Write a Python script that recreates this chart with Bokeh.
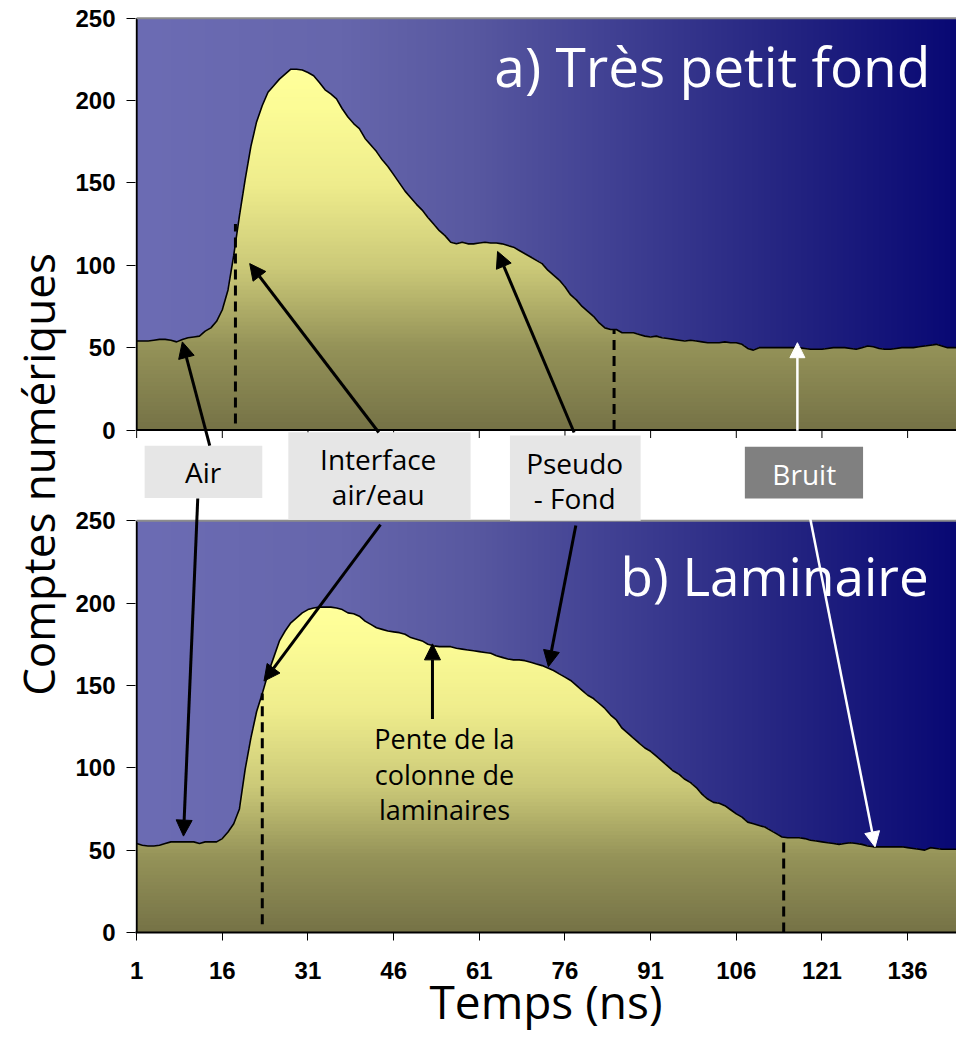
import numpy as np
from bokeh.plotting import figure
from bokeh.models import Range1d, FixedTicker, Arrow, NormalHead
from bokeh.core.properties import value
from bokeh.embed import file_html
from bokeh.resources import INLINE

# ---------------- data ----------------
time_ns = list(range(1, 146))

counts_a = [54, 54, 54, 54.5, 55, 55, 54.5, 53.5, 55, 56,
            56.5, 57, 60, 62, 66, 73, 85, 106, 130, 152,
            172, 187, 197, 205, 209, 213, 216, 219, 219, 218.5,
            217, 215, 211, 206.5, 204, 201, 195, 190, 186, 183,
            177, 173, 169, 164, 160, 155, 150, 145, 141, 137,
            133.5, 129, 125, 121, 118, 114, 113, 114, 113, 113,
            113.5, 114, 113.5, 113.5, 113, 112, 111, 109, 107, 105,
            103, 101, 97, 94, 91, 87, 82, 79, 75, 72,
            69, 65, 62, 61, 61, 59, 59, 59, 58, 57,
            56.5, 57, 56, 55.5, 55, 54.5, 54, 54.5, 54, 53.5,
            53, 53, 53, 53.5, 53, 53, 52, 49.5, 48.5, 50,
            50, 50, 50, 50, 50, 50, 50, 49.5, 49, 49,
            49, 49.5, 50, 50, 50, 49.5, 49, 50, 51, 50.5,
            49.5, 49, 49, 49.5, 50, 50, 50, 50.5, 51, 51.5,
            52, 51, 50, 50, 50]

counts_b = [54, 53, 52.5, 52.5, 53, 54, 55, 55, 55, 55,
            55, 54, 55, 55, 55, 57, 61, 66, 75, 99,
            118, 134, 145, 157, 167, 177, 183, 188, 191, 194,
            196, 197, 197.5, 197.5, 197.5, 197, 196, 194, 193.5, 192,
            189, 187, 185, 184, 183, 182.5, 182, 181, 179, 178,
            177, 175, 174, 173.5, 173.5, 173.5, 172.5, 172, 171.5, 171,
            170.5, 170, 169.5, 168, 167, 166, 165.5, 165.5, 165, 164,
            163, 162, 160.5, 159, 157, 155, 153, 150, 147, 144,
            142, 139, 136, 132, 129, 124, 121, 118, 115, 112,
            110, 107, 104, 101, 98, 96, 93, 91, 88, 84,
            81, 79, 78.5, 77, 74.5, 72, 70, 67, 66, 65,
            64, 62, 60, 58, 57.5, 57.5, 57.5, 57, 56, 55.5,
            55, 54.5, 54, 53.5, 54, 54.5, 54, 53.5, 52.5, 52,
            52, 52, 52, 52, 52, 51.5, 51, 50.5, 50, 51.5,
            51, 50.5, 50.5, 50.5, 50.5]

x_ticks = [1, 16, 31, 46, 61, 76, 91, 106, 121, 136]
y_ticks = [0, 50, 100, 150, 200, 250]

title_a = "a) Très petit fond"
title_b = "b) Laminaire"
x_title = "Temps (ns)"
y_title = "Comptes numériques"

# phase boundaries (ns) marked by dashed lines
bounds_a = [18.3, 84.6]
bounds_b = [23.0, 114.3]

# ---------------- layout ----------------
OFFSET = 305          # panel a is drawn 305 units above panel b
X0, X1 = 0.8, 144.56
Y0, Y1 = 0, 556
FW, FH = 821, 916
YSCALE = FH / (Y1 - Y0)   # px per count

FONT = "Open Sans"


def ty(y, size):
    """baseline position corrected for the svg text baseline offset"""
    return y + 0.35 * size / YSCALE


p = figure(frame_width=FW, frame_height=FH, x_range=Range1d(X0, X1), y_range=Range1d(Y0, Y1),
           output_backend="svg", toolbar_location=None,
           min_border_left=135, min_border_right=0,
           min_border_top=16, min_border_bottom=90)
p.outline_line_color = None
p.grid.visible = False
p.background_fill_color = "white"
p.border_fill_color = "white"


def hexcol(c):
    return "#%02x%02x%02x" % tuple(int(round(v)) for v in c)


# horizontal background gradient of each panel
ncol = 821
fx = np.linspace(0, 1, ncol)
bg_f = [0, 0.25, 0.41, 0.57, 0.81, 1.0]
bg_c = np.array([(108, 108, 180), (102, 102, 172), (88, 88, 160),
                 (66, 66, 148), (34, 34, 128), (8, 8, 116)], dtype=float)
img = np.empty((2, ncol), dtype=np.uint32)
view = img.view(dtype=np.uint8).reshape((2, ncol, 4))
for ch in range(3):
    view[:, :, ch] = np.interp(fx, bg_f, bg_c[:, ch]).astype(np.uint8)
view[:, :, 3] = 255
for base in (0, OFFSET):
    p.image_rgba(image=[img], x=1, y=base, dw=X1 - 1, dh=250)

# vertical yellow -> olive gradient of the areas
ar_f = [0, 0.23, 0.45, 0.68, 0.9, 1.0]
ar_c = np.array([(117, 114, 70), (148, 146, 88), (203, 201, 120),
                 (238, 236, 140), (252, 252, 150), (255, 255, 155)], dtype=float)


def area_color(f):
    return hexcol([np.interp(f, ar_f, ar_c[:, ch]) for ch in range(3)])


def draw_area(series, base):
    s = np.array(series, dtype=float)
    vmax = s.max()
    n = 90
    for k in range(n):
        level = vmax * (1 - k / n)
        f = (level - vmax / (2 * n)) / vmax
        p.varea(x=time_ns, y1=base, y2=base + np.minimum(s, level),
                fill_color=area_color(f), fill_alpha=1)
    p.line(x=time_ns, y=base + s, line_color="black", line_width=1.6)


draw_area(counts_a, OFFSET)
draw_area(counts_b, 0)

# panel frames: left axis lines, top borders, panel-a x axis with ticks
p.segment(x0=[1, 1], y0=[0, OFFSET], x1=[1, 1], y1=[250, OFFSET + 250],
          line_color="black", line_width=2)
p.segment(x0=[1, 1], y0=[250, OFFSET + 250], x1=[X1, X1], y1=[250, OFFSET + 250],
          line_color="#8c8c8c", line_width=2)
p.segment(x0=1, y0=OFFSET, x1=X1, y1=OFFSET, line_color="black", line_width=2)
p.segment(x0=x_ticks, y0=[OFFSET] * len(x_ticks), x1=x_ticks,
          y1=[OFFSET - 8 / YSCALE] * len(x_ticks), line_color="black", line_width=1)

# dashed phase boundaries
p.segment(x0=bounds_a, y0=[OFFSET + 4, OFFSET + 0],
          x1=bounds_a, y1=[OFFSET + 125, OFFSET + float(np.interp(bounds_a[1], time_ns, counts_a))],
          line_color="black", line_width=3, line_dash="10 6")
p.segment(x0=bounds_b, y0=[5, 0],
          x1=bounds_b, y1=[145, float(np.interp(bounds_b[1], time_ns, counts_b))],
          line_color="black", line_width=3, line_dash="10 6")

# ---------------- axes ----------------
p.xaxis.ticker = FixedTicker(ticks=x_ticks)
p.xaxis.axis_line_color = "black"
p.xaxis.axis_line_width = 2
p.xaxis.major_tick_out = 8
p.xaxis.major_tick_in = 0
p.xaxis.minor_tick_line_color = None
p.xaxis.major_label_standoff = 21
p.xaxis.major_label_text_font = "Liberation Sans"
p.xaxis.major_label_text_font_style = "bold"
p.xaxis.major_label_text_font_size = "24px"
p.xaxis.major_label_text_color = "black"
p.xaxis.axis_label = x_title
p.xaxis.axis_label_text_font = FONT
p.xaxis.axis_label_text_font_style = "normal"
p.xaxis.axis_label_text_font_size = "46px"
p.xaxis.axis_label_text_color = "black"
p.xaxis.axis_label_standoff = -12

p.yaxis.ticker = FixedTicker(ticks=y_ticks + [v + OFFSET for v in y_ticks])
p.yaxis.major_label_overrides = {**{v: str(v) for v in y_ticks},
                                 **{v + OFFSET: str(v) for v in y_ticks}}
p.yaxis.axis_line_color = None
p.yaxis.major_tick_out = 9
p.yaxis.major_tick_in = 0
p.yaxis.minor_tick_line_color = None
p.yaxis.major_label_standoff = 11
p.yaxis.major_label_text_font = "Liberation Sans"
p.yaxis.major_label_text_font_style = "bold"
p.yaxis.major_label_text_font_size = "24px"
p.yaxis.major_label_text_color = "black"
p.yaxis.axis_label = y_title
p.yaxis.axis_label_text_font = FONT
p.yaxis.axis_label_text_font_style = "normal"
p.yaxis.axis_label_text_font_size = "44px"
p.yaxis.axis_label_text_color = "black"
p.yaxis.axis_label_standoff = 4

# ---------------- panel titles ----------------
p.text(x=[140.0], y=[ty(OFFSET + 209.5, 55)], text=[title_a], text_font=value(FONT),
       text_font_size="55px", text_color="white", text_align="right",
       text_baseline="alphabetic")
p.text(x=[139.7], y=[ty(205.7, 53)], text=[title_b], text_font=value(FONT),
       text_font_size="53px", text_color="white", text_align="right",
       text_baseline="alphabetic")

# ---------------- label boxes between panels ----------------
p.quad(left=[2.4, 27.56, 66.37], right=[23.0, 59.48, 89.25],
       bottom=[263.8, 250.6, 250.0], top=[295.5, 303.6, 301.6],
       fill_color="#e6e6e6", line_color=None)
p.quad(left=[107.5], right=[128.2], bottom=[263.5], top=[294.9],
       fill_color="#808080", line_color=None)

p.text(x=[12.64, 43.3, 43.3, 77.7, 77.7],
       y=[ty(v, 28) for v in (273.3, 281.4, 260.1, 279.3, 257.7)],
       text=["Air", "Interface", "air/eau", "Pseudo", "- Fond"],
       text_font=value(FONT), text_font_size="28px", text_color="black",
       text_align="center", text_baseline="alphabetic")
p.text(x=[117.9], y=[ty(272.6, 28)], text=["Bruit"], text_font=value(FONT),
       text_font_size="28px", text_color="white", text_align="center",
       text_baseline="alphabetic")

p.text(x=[54.9, 54.9, 54.9], y=[ty(v, 27) for v in (112.3, 90.3, 69.1)],
       text=["Pente de la", "colonne de", "laminaires"],
       text_font=value(FONT), text_font_size="27px", text_color="black",
       text_align="center", text_baseline="alphabetic")


# ---------------- arrows ----------------
def on_a(x):
    return OFFSET + float(np.interp(x, time_ns, counts_a))


def on_b(x):
    return float(np.interp(x, time_ns, counts_b))


black_arrows = [
    (13.8, OFFSET - 9.5, 9.0, on_a(9.0) - 1.5),      # Air -> a
    (11.7, 263.4, 9.2, on_b(9.2) + 3.5),             # Air -> b
    (43.4, OFFSET - 1.5, 20.8, OFFSET + 101),        # Interface -> a
    (43.7, 247.6, 23.3, on_b(23.3) + 4),             # Interface -> b
    (77.6, OFFSET - 1.5, 64.2, on_a(64.2) - 5),      # Pseudo-fond -> a
    (77.9, 247.0, 73.1, on_b(73.1) + 1),             # Pseudo-fond -> b
    (52.8, 129.6, 52.8, on_b(52.8) + 1),             # Pente
]
for xs, ys, xe, ye in black_arrows:
    p.add_layout(Arrow(end=NormalHead(size=16, fill_color="black", line_color="black"),
                       x_start=xs, y_start=ys, x_end=xe, y_end=ye,
                       line_color="black", line_width=3))

white_arrows = [
    (116.7, OFFSET - 0.5, 116.7, on_a(116.7) + 3),   # Bruit -> a
    (118.3, 262.6, 130.3, on_b(130.3)),              # Bruit -> b
]
for xs, ys, xe, ye in white_arrows:
    p.add_layout(Arrow(end=NormalHead(size=15, fill_color="white", line_color="white"),
                       x_start=xs, y_start=ys, x_end=xe, y_end=ye,
                       line_color="white", line_width=2.5))

open("out.html", "w").write(file_html(p, INLINE))
